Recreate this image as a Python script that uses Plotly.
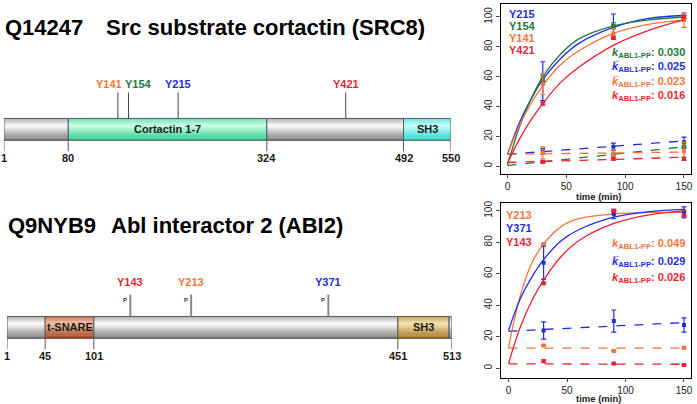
import plotly.graph_objects as go

W, H = 697, 404
FONT = "Liberation Sans, Arial, sans-serif"

BLUE = "#1f2ee6"
GREEN = "#1e7a3e"
ORANGE = "#f5743c"
RED = "#ee1f30"

# =========================
# DATA - protein maps
# =========================

src8_dom_start = [1, 80, 324, 492]
src8_dom_end = [80, 324, 492, 550]
src8_dom_name = ["", "Cortactin 1-7", "", "SH3"]
src8_dom_kind = ["grey", "cortactin", "grey", "sh3a"]
src8_ticks = [1, 80, 324, 492, 550]
src8_site_name = ["Y141", "Y154", "Y215", "Y421"]
src8_site_pos = [141, 154, 215, 421]

abi2_dom_start = [1, 45, 101, 451, 510]
abi2_dom_end = [45, 101, 451, 510, 513]
abi2_dom_name = ["", "t-SNARE", "", "SH3", ""]
abi2_dom_kind = ["grey", "tsnare", "grey", "sh3b", "grey"]
abi2_ticks = [1, 45, 101, 451, 513]
abi2_site_name = ["Y143", "Y213", "Y371"]
abi2_site_pos = [143, 213, 371]

# =========================
# DATA - kinetics
# =========================

t_pts = [30, 90, 150]
t_fit = [0, 10, 20, 30, 45, 60, 90, 120, 150]
t_ctl = [0, 150]

# SRC8 (order: Y215, Y154, Y141, Y421)
src8_names = ["Y215", "Y154", "Y141", "Y421"]
src8_k = ["0.025", "0.030", "0.023", "0.016"]
src8_pts = [[57, 94, 100], [59, 94, 100], [55, 89, 98], [42, 86, 100]]
src8_err = [[13, 8, 2], [2, 2, 1], [7, 3, 5], [1, 1, 1]]
src8_fit = [
    [8, 29, 45, 58, 72, 82, 93, 99, 101],
    [1, 26, 45, 60, 75, 85, 94, 98, 100],
    [8, 27, 42, 54, 68, 77, 89, 95, 98],
    [2, 18, 31, 42, 56, 66, 81, 91, 98],
]
src8_ctl_line = [[8, 17], [0.5, 13], [8, 9.5], [2.5, 6]]
src8_ctl_pts = [[10, 13, 16], [3, 8, 13], [9, 8, 10], [3, 5, 5]]
src8_ctl_err = [[2, 2.5, 3.5], [0.5, 0.5, 1], [4, 3, 6], [0.5, 1, 1]]

# ABI2 (order: Y213, Y371, Y143)
abi2_names = ["Y213", "Y371", "Y143"]
abi2_k = ["0.049", "0.029", "0.026"]
abi2_pts = [[79, 99, 100], [67, 98, 99], [54, 100, 97]]
abi2_err = [[0.5, 0.5, 0.5], [10.5, 3, 3.5], [0.5, 0.5, 0.5]]
abi2_fit = [
    [13, 46, 67, 79, 90, 95, 98, 99, 99],
    [24, 44, 58, 69, 81, 88, 96, 99.5, 101],
    [3, 26, 43, 56, 71, 81, 92, 97.5, 100],
]
abi2_ctl_line = [[12.8, 12.8], [23.5, 29], [2.8, 2.5]]
abi2_ctl_pts = [[14.5, 11, 13], [24, 30, 27.5], [4.5, 3, 2]]
abi2_ctl_err = [[0.5, 0.5, 0.5], [5.5, 7, 4.5], [0.8, 0.5, 0.5]]

# =========================
# STYLE
# =========================

SITE_COLOR = {
    "Y141": ORANGE, "Y154": GREEN, "Y215": BLUE, "Y421": RED,
    "Y143": RED, "Y213": ORANGE, "Y371": BLUE,
}
K_BAR = {"Y215": True, "Y141": True, "Y371": True}

PALETTE = {
    "grey": ((125, 125, 125), (252, 252, 252)),
    "cortactin": ((40, 205, 140), (205, 255, 230)),
    "sh3a": ((40, 215, 205), (200, 255, 250)),
    "tsnare": ((165, 65, 35), (245, 195, 165)),
    "sh3b": ((165, 115, 35), (245, 228, 175)),
}


def px(xp):
    return xp / W


def py(yp):
    return 1 - yp / H


def mix(a, b, w):
    return "rgb(%d,%d,%d)" % tuple(int(a[i] + (b[i] - a[i]) * w) for i in range(3))


def bar_shapes(xref, starts, ends, kinds, ytop, ybot):
    shapes = []
    n = 14
    h = (ybot - ytop) / n
    for s, e, k in zip(starts, ends, kinds):
        dark, light = PALETTE[k]
        for i in range(n):
            f = (i + 0.5) / n
            if f < 0.33:
                w = 1 - (0.33 - f) / 0.33 * 0.6
            else:
                w = 1 - (f - 0.33) / 0.67
            shapes.append(dict(type="rect", xref=xref, yref="y", x0=s, x1=e,
                               y0=ytop + i * h, y1=ytop + (i + 1) * h + 0.4,
                               fillcolor=mix(dark, light, w), line_width=0))
        shapes.append(dict(type="rect", xref=xref, yref="y", x0=s, x1=e, y0=ytop, y1=ybot,
                           line=dict(color="#5a5a5a", width=1), fillcolor="rgba(0,0,0,0)"))
    return shapes


def protein_map(xref, starts, ends, names, kinds, ticks, site_names, site_pos,
                ytop, ybot, stem_top, label_y, tick_label_y, stem_style, phospho, shifts):
    shapes = bar_shapes(xref, starts, ends, kinds, ytop, ybot)
    ann = []
    for s, e, nm in zip(starts, ends, names):
        if nm:
            ann.append(dict(xref=xref, yref="y", x=(s + e) / 2, y=(ytop + ybot) / 2,
                            text="<b>%s</b>" % nm, showarrow=False,
                            font=dict(size=11, color="#1a1a1a")))
    for t in ticks:
        shapes.append(dict(type="line", xref=xref, yref="y", x0=t, x1=t, y0=ybot, y1=ybot + 11,
                           line=dict(color="#555", width=1)))
        ann.append(dict(xref=xref, yref="y", x=t, y=tick_label_y, text="<b>%d</b>" % t,
                        showarrow=False, font=dict(size=11, color="#1a1a1a")))
    for nm, p, sh in zip(site_names, site_pos, shifts):
        shapes.append(dict(type="line", xref=xref, yref="y", x0=p, x1=p, y0=stem_top, y1=ytop,
                           line=stem_style))
        ann.append(dict(xref=xref, yref="y", x=p, y=label_y, xshift=sh, text="<b>%s</b>" % nm,
                        showarrow=False, font=dict(size=11, color=SITE_COLOR[nm])))
        if phospho:
            ann.append(dict(xref=xref, yref="y", x=p, y=stem_top + 5, xshift=-5, text="<b>P</b>",
                            showarrow=False, font=dict(size=6, color="#333")))
    return shapes, ann


fig = go.Figure()

# invisible anchors so the map axes exist
fig.add_trace(go.Scatter(x=[1, 550], y=[0, 0], mode="markers", marker=dict(opacity=0),
                         xaxis="x", yaxis="y", showlegend=False, hoverinfo="skip"))
fig.add_trace(go.Scatter(x=[1, 513], y=[0, 0], mode="markers", marker=dict(opacity=0),
                         xaxis="x2", yaxis="y", showlegend=False, hoverinfo="skip"))

s1, a1 = protein_map("x", src8_dom_start, src8_dom_end, src8_dom_name, src8_dom_kind, src8_ticks,
                     src8_site_name, src8_site_pos, 117, 139, 91, 82, 157,
                     dict(color="#444", width=1), False, [-9, 10, 0, 0])
s2, a2 = protein_map("x2", abi2_dom_start, abi2_dom_end, abi2_dom_name, abi2_dom_kind, abi2_ticks,
                     abi2_site_name, abi2_site_pos, 316, 338, 294, 281, 356,
                     dict(color="#8a8a8a", width=2), True, [0, 0, 0])
shapes = s1 + s2
annotations = a1 + a2

# titles
annotations += [
    dict(xref="paper", yref="y", x=px(3), y=26, xanchor="left", text="<b>Q14247</b>",
         showarrow=False, font=dict(size=22, color="black")),
    dict(xref="paper", yref="y", x=px(104), y=26, xanchor="left",
         text="<b>Src substrate cortactin (SRC8)</b>", showarrow=False, font=dict(size=22, color="black")),
    dict(xref="paper", yref="y", x=px(6), y=225, xanchor="left", text="<b>Q9NYB9</b>",
         showarrow=False, font=dict(size=22, color="black")),
    dict(xref="paper", yref="y", x=px(109), y=225, xanchor="left",
         text="<b>Abl interactor 2 (ABI2)</b>", showarrow=False, font=dict(size=22, color="black")),
]


def kinetics(xa, ya, names, k, pts, err, fit, ctl_line, ctl_pts, ctl_err,
             name_x, name_y, k_x, k_y, xlabel_y):
    for i, nm in enumerate(names):
        c = SITE_COLOR[nm]
        fig.add_trace(go.Scatter(x=t_ctl, y=ctl_line[i], mode="lines", xaxis=xa, yaxis=ya,
                                 line=dict(color=c, width=1.3, dash="dash"), showlegend=False))
        fig.add_trace(go.Scatter(x=t_pts, y=ctl_pts[i], mode="markers", xaxis=xa, yaxis=ya,
                                 marker=dict(color=c, size=4, symbol="square"),
                                 error_y=dict(type="data", array=ctl_err[i], color=c, thickness=1.2, width=2.5),
                                 showlegend=False))
    for i, nm in enumerate(names):
        c = SITE_COLOR[nm]
        fig.add_trace(go.Scatter(x=t_fit, y=fit[i], mode="lines", xaxis=xa, yaxis=ya,
                                 line=dict(color=c, width=1.3, shape="spline", smoothing=1.0),
                                 showlegend=False))
        fig.add_trace(go.Scatter(x=t_pts, y=pts[i], mode="markers", xaxis=xa, yaxis=ya,
                                 marker=dict(color=c, size=4, symbol="square"),
                                 error_y=dict(type="data", array=err[i], color=c, thickness=1.2, width=2.5),
                                 showlegend=False))
    for i, nm in enumerate(names):
        c = SITE_COLOR[nm]
        annotations.append(dict(xref="paper", yref="paper", x=px(name_x), y=py(name_y[i]),
                                xanchor="left", yanchor="middle", text="<b>%s</b>" % nm,
                                showarrow=False, font=dict(size=11, color=c)))
    order = sorted(range(len(names)), key=lambda j: -float(k[j]))
    for row, j in enumerate(order):
        nm = names[j]
        c = SITE_COLOR[nm]
        ksym = "k\u0305" if K_BAR.get(nm) else "k"
        annotations.append(dict(xref="paper", yref="paper", x=px(k_x), y=py(k_y[row]),
                                xanchor="right", yanchor="middle",
                                text="<b><i>%s</i><sub>ABL1-PP</sub>: %s</b>" % (ksym, k[j]),
                                showarrow=False, font=dict(size=11, color=c)))
    annotations.append(dict(xref="paper", yref="paper", x=px(600), y=py(xlabel_y),
                            xanchor="center", yanchor="middle",
                            text="<b>time (min)</b>", showarrow=False, borderpad=0,
                            font=dict(size=9.5, color="#222")))


kinetics("x3", "y3", src8_names, src8_k, src8_pts, src8_err, src8_fit,
         src8_ctl_line, src8_ctl_pts, src8_ctl_err,
         508, [12, 24, 36, 48], 689, [51, 65, 80, 94], 195)
kinetics("x4", "y4", abi2_names, abi2_k, abi2_pts, abi2_err, abi2_fit,
         abi2_ctl_line, abi2_ctl_pts, abi2_ctl_err,
         505, [214, 227, 241], 689, [243, 261, 277], 398.5)

map_x = dict(visible=False, fixedrange=True)
kin_x = dict(tickvals=[0, 50, 100, 150], ticks="outside", ticklen=3, showline=True, mirror=True,
             linecolor="black", linewidth=1, showgrid=False, zeroline=False,
             tickfont=dict(size=10, color="#222"))
kin_y = dict(tickvals=[0, 20, 40, 60, 80, 100], ticks="outside", ticklen=4, showline=True, mirror=True,
             linecolor="black", linewidth=1, showgrid=False, zeroline=False, tickangle=-90,
             tickfont=dict(size=10, color="#222"))

fig.update_layout(
    width=W, height=H,
    margin=dict(l=0, r=0, t=0, b=0),
    paper_bgcolor="white", plot_bgcolor="white",
    font=dict(family=FONT),
    showlegend=False,
    xaxis=dict(domain=[px(4), px(452)], range=[1, 550], anchor="y", **map_x),
    xaxis2=dict(domain=[px(7), px(453)], range=[1, 513], anchor="y", **map_x),
    yaxis=dict(domain=[0, 1], range=[H, 0], anchor="x", visible=False, fixedrange=True),
    xaxis3=dict(domain=[px(502), px(693)], range=[-5.9, 156], anchor="y3", **kin_x),
    yaxis3=dict(domain=[py(173), py(2)], range=[-5.3, 108.7], anchor="x3", **kin_y),
    xaxis4=dict(domain=[px(502), px(693)], range=[-6.8, 156], anchor="y4", **kin_x),
    yaxis4=dict(domain=[py(378), py(202)], range=[-6.3, 105], anchor="x4", **kin_y),
    shapes=shapes,
    annotations=annotations,
)

# page body has a default 8px margin; drop it so the figure sits at the window origin
fig.write_html("out.html", config={"displayModeBar": False},
               post_script="document.body.style.margin='0';")
